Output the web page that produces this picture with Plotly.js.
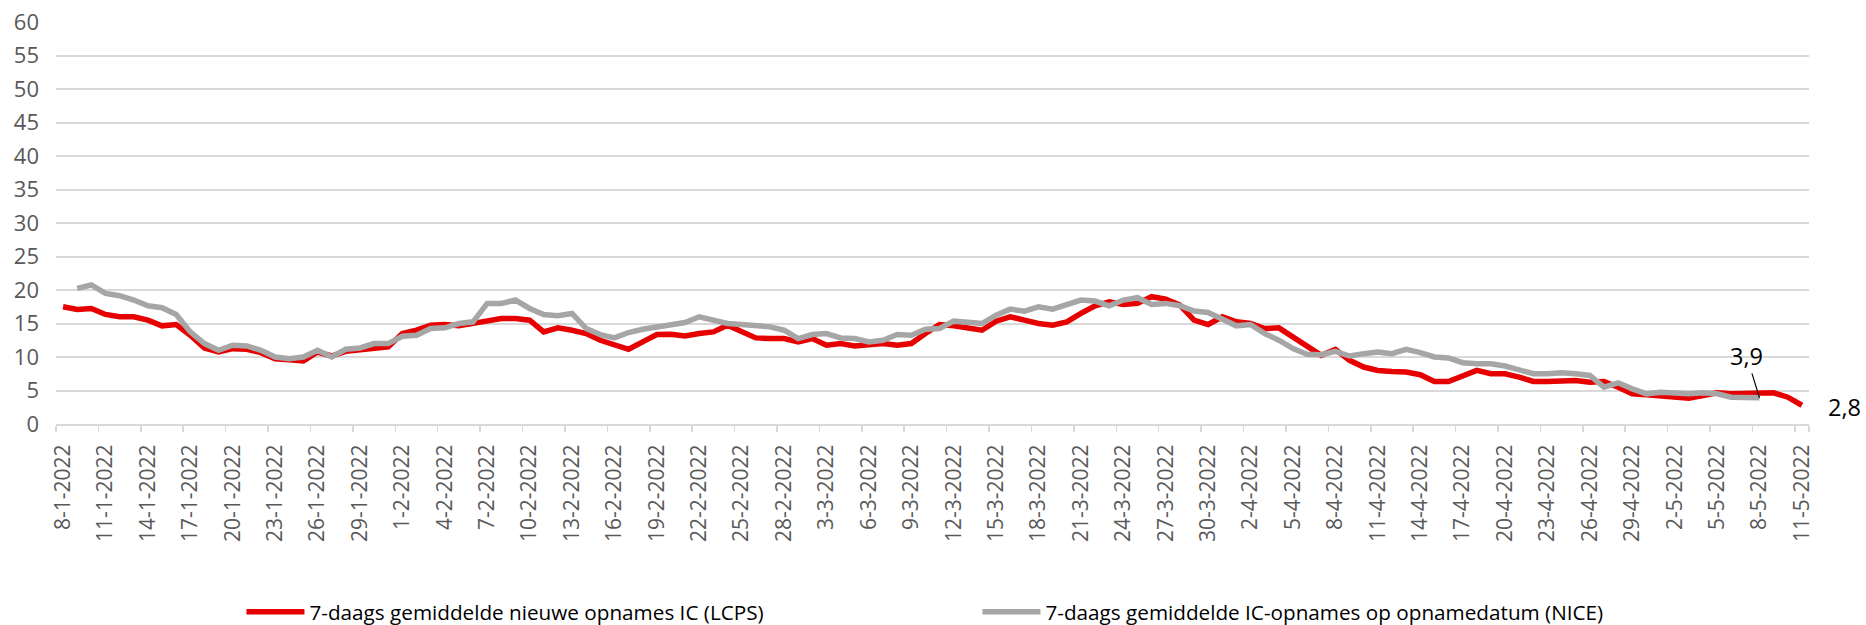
<!DOCTYPE html>
<html>
<head>
<meta charset="utf-8">
<script src="https://cdn.plot.ly/plotly-3.0.1.min.js"></script>
<style>html,body{margin:0;padding:0;background:#fff;}#chart{width:1866px;height:625px;}</style>
</head>
<body>
<div id="chart"></div>
<script>
// Categories: consecutive days from 8-1-2022 to 11-5-2022
const startDate = [2022, 0, 8];
const dayCount = 124;
const dates = [];
for (let i = 0; i < dayCount; i++) {
  const d = new Date(startDate[0], startDate[1], startDate[2] + i);
  dates.push(d.getDate() + '-' + (d.getMonth() + 1) + '-' + d.getFullYear());
}

// Tick labels shown (every third day)
const tickLabels = ['8-1-2022','11-1-2022','14-1-2022','17-1-2022','20-1-2022','23-1-2022','26-1-2022','29-1-2022',
  '1-2-2022','4-2-2022','7-2-2022','10-2-2022','13-2-2022','16-2-2022','19-2-2022','22-2-2022','25-2-2022','28-2-2022',
  '3-3-2022','6-3-2022','9-3-2022','12-3-2022','15-3-2022','18-3-2022','21-3-2022','24-3-2022','27-3-2022','30-3-2022',
  '2-4-2022','5-4-2022','8-4-2022','11-4-2022','14-4-2022','17-4-2022','20-4-2022','23-4-2022','26-4-2022','29-4-2022',
  '2-5-2022','5-5-2022','8-5-2022','11-5-2022'];

// 7-daags gemiddelde nieuwe opnames IC (LCPS), 8-1 .. 11-5
const lcps = [17.5,17.1,17.25,16.35,16.0,16.0,15.5,14.65,14.85,13.25,
  11.35,10.75,11.25,11.15,10.65,9.75,9.6,9.4,10.75,10.15,
  10.85,11.0,11.35,11.5,13.5,14.0,14.75,14.85,14.65,15.0,
  15.5,15.75,15.75,15.5,13.75,14.35,14.0,13.5,12.5,11.75,
  11.15,12.25,13.35,13.4,13.15,13.5,13.75,14.75,13.75,12.85,
  12.75,12.75,12.25,12.75,11.75,12.0,11.65,11.85,12.0,11.75,
  12.0,13.5,14.85,14.65,14.35,14.0,15.35,16.0,15.5,15.0,
  14.75,15.25,16.5,17.65,18.25,17.85,18.0,19.0,18.65,17.75,
  15.5,14.85,16.0,15.25,15.0,14.25,14.35,13.0,11.75,10.25,
  11.15,9.5,8.5,8.0,7.85,7.75,7.35,6.35,6.35,7.25,
  8.0,7.5,7.5,7.0,6.35,6.35,6.35,6.5,6.25,6.35,
  5.5,4.5,4.35,4.25,4.0,3.85,4.25,4.65,4.5,4.5,
  4.5,4.65,4.0,2.8];

// 7-daags gemiddelde IC-opnames op opnamedatum (NICE), 8-1 .. 8-5
const nice = [null,20.25,20.75,19.5,19.15,18.5,17.65,17.35,16.35,13.75,
  12.0,11.0,11.75,11.65,11.0,10.0,9.75,10.0,11.0,10.0,
  11.15,11.35,12.0,12.0,13.1,13.25,14.25,14.35,15.0,15.25,
  18.0,18.0,18.5,17.25,16.35,16.15,16.5,14.25,13.35,12.85,
  13.65,14.15,14.5,15.0,15.15,16.0,15.5,15.0,14.85,14.75,
  14.5,14.0,12.75,13.35,13.5,12.85,12.75,12.25,12.5,13.35,
  13.25,14.15,14.25,15.35,15.15,15.0,16.25,17.15,16.85,17.5,
  17.15,17.75,18.5,18.35,17.65,18.5,18.85,17.85,18.0,17.65,
  16.85,16.65,15.75,14.65,14.85,13.5,12.5,11.25,10.4,10.35,
  10.85,10.15,10.5,10.75,10.5,11.15,10.65,10.0,9.85,9.15,
  9.0,9.0,8.65,8.0,7.5,7.5,7.65,7.5,7.25,5.5,
  6.15,5.25,4.5,4.75,4.65,4.5,4.65,4.5,4.0,4.0,
  3.9];

const seriesNames = ['7-daags gemiddelde nieuwe opnames IC (LCPS)', '7-daags gemiddelde IC-opnames op opnamedatum (NICE)'];
const lastLcpsLabel = '2,8';
const lastNiceLabel = '3,9';

const FONT = 'Open Sans, Noto Sans, Liberation Sans, sans-serif';

const traces = [
  {x: dates, y: lcps, type: 'scatter', mode: 'lines', name: seriesNames[0],
   line: {color: '#E60000', width: 5.5}, hoverinfo: 'x+y'},
  {x: dates.slice(0, nice.length), y: nice, type: 'scatter', mode: 'lines', name: seriesNames[1],
   line: {color: '#A6A6A6', width: 5.5}, hoverinfo: 'x+y'}
];

const lastNiceIdx = nice.length - 1;

const layout = {
  width: 1866, height: 625,
  margin: {l: 56, r: 57, t: 22, b: 201, autoexpand: false},
  paper_bgcolor: '#ffffff', plot_bgcolor: '#ffffff',
  font: {family: FONT, color: '#595959'},
  showlegend: true,
  legend: {orientation: 'h', x: 0.1058, xanchor: 'left', y: -0.467, yanchor: 'middle',
    font: {family: FONT, size: 20.7, color: '#000000'}, entrywidth: 663, entrywidthmode: 'pixels',
    itemwidth: 58},
  xaxis: {type: 'category', range: [-0.5, dates.length - 0.5], tickmode: 'array',
    tickvals: tickLabels, ticktext: tickLabels, tickson: 'boundaries',
    ticks: 'outside', ticklen: 6, tickwidth: 1.5, tickcolor: '#D9D9D9', ticklabelstandoff: 10,
    showline: true, linecolor: '#D9D9D9', linewidth: 2, showgrid: false, zeroline: false,
    tickangle: -90, tickfont: {family: FONT, size: 21, color: '#595959'}, fixedrange: true},
  yaxis: {range: [0, 60], tick0: 0, dtick: 5, showgrid: true, gridcolor: '#D9D9D9', gridwidth: 2,
    zeroline: false, showline: false, ticks: '', ticklabelstandoff: 16,
    tickfont: {family: FONT, size: 22, color: '#595959'}, fixedrange: true},
  annotations: [
    {x: dates[lcps.length - 1], y: lcps[lcps.length - 1], text: lastLcpsLabel, showarrow: false,
     xanchor: 'left', yanchor: 'middle', xshift: 24, yshift: -2,
     font: {family: FONT, size: 23.5, color: '#000000'}},
    {x: dates[lastNiceIdx], y: nice[lastNiceIdx], text: lastNiceLabel, showarrow: true,
     arrowhead: 0, arrowwidth: 1.2, arrowcolor: '#000000', ax: -13, ay: -42,
     font: {family: FONT, size: 23.5, color: '#000000'}}
  ]
};

Plotly.newPlot('chart', traces, layout, {displayModeBar: false, staticPlot: true});
</script>
</body>
</html>
